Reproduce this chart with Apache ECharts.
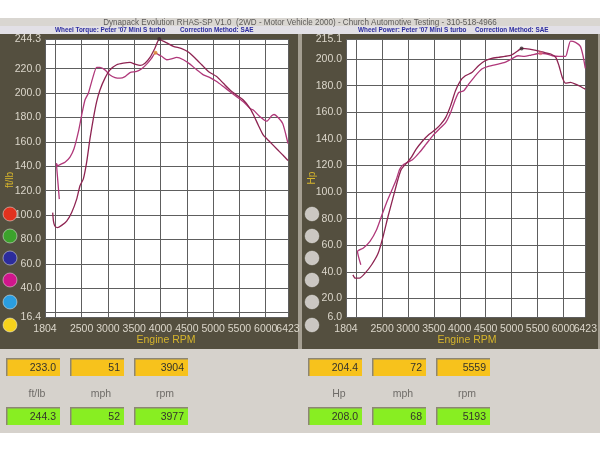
<!DOCTYPE html>
<html><head><meta charset="utf-8">
<script src="https://cdn.jsdelivr.net/npm/echarts@6/dist/echarts.min.js"></script>
<style>html,body{margin:0;padding:0;background:#fff}#c{width:600px;height:467px}</style>
</head><body><div id="c"></div>
<script>
// ---------- text ----------
const titleText = 'Dynapack Evolution RHAS-SP V1.0  (2WD - Motor Vehicle 2000) - Church Automotive Testing - 310-518-4966';
const torqueSubtitle = ["Wheel Torque: Peter '07 Mini S turbo", 'Correction Method: SAE'];
const powerSubtitle = ["Wheel Power: Peter '07 Mini S turbo", 'Correction Method: SAE'];
const xAxisTitle = 'Engine RPM';
const torqueUnit = 'ft/lb';
const powerUnit = 'Hp';

// ---------- axes ----------
const rpmMin = 1804, rpmMax = 6423, rpmStep = 500;
const rpmHiddenLabels = [2000];
const torqueMin = 16.4, torqueMax = 244.3, torqueStep = 20;
const torqueHiddenLabels = [20, 240];
const powerMin = 6.0, powerMax = 215.1, powerStep = 20;
const powerHiddenLabels = [];

// ---------- series [rpm, value] ----------
const torqueRun1 = [[2076,113],[2020,142.5],[2050,140.5],[2100,141.5],[2184,143.3],[2279,147.5],[2355,154.3],[2438,168.1],[2501,181.9],[2564,194.3],[2628,199.8],[2710,212.2],[2786,221.0],[2849,221.0],[2944,219.0],[3040,214.8],[3135,212.7],[3230,212.2],[3325,213.5],[3420,216.8],[3546,217.7],[3642,219.9],[3737,223.7],[3832,228.7],[3904,233.0],[3960,231.5],[4022,230.1],[4117,227.3],[4212,228.1],[4307,229.2],[4434,227.3],[4560,223.7],[4687,219.0],[4814,214.9],[4940,212.7],[5067,209.4],[5194,205.3],[5321,201.1],[5447,197.0],[5574,192.9],[5701,187.4],[5764,186.0],[5891,180.5],[6017,176.9],[6112,181.3],[6157,182.4],[6239,179.7],[6322,175.0],[6385,165.4],[6423,158.5]];
const torqueRun2 = [[1950,102],[1965,95],[1990,91],[2040,89.6],[2120,91.5],[2216,95],[2311,102],[2406,113],[2469,124],[2533,129.6],[2596,143.3],[2659,162.6],[2723,179.1],[2786,192.9],[2849,202.5],[2944,212.2],[3040,219.0],[3166,223.2],[3293,224.5],[3420,225.1],[3515,223.7],[3610,222.6],[3705,224.5],[3800,229.2],[3895,236.9],[3977,244.3],[4050,242.5],[4117,241.1],[4243,238.3],[4402,236.4],[4528,233.6],[4655,228.7],[4782,223.2],[4909,217.7],[5067,213.5],[5194,208.0],[5321,202.5],[5447,198.3],[5574,194.3],[5701,187.5],[5764,182.4],[5859,173.6],[5954,165.4],[6081,159.9],[6207,154.3],[6334,148.8],[6423,144.7]];
const powerRun1 = [[2090,45.3],[2026,55.3],[2140,57.9],[2267,62.9],[2394,71.7],[2489,81.8],[2584,91.8],[2680,100.6],[2775,109.4],[2838,117],[2914,120.8],[2978,122],[3092,124.5],[3219,129.6],[3346,135.8],[3473,142.1],[3600,147.2],[3727,152.2],[3822,159.7],[3917,169.8],[3980,174.8],[4076,176.1],[4171,181.1],[4298,187.4],[4425,192.5],[4551,194.5],[4742,196.2],[4869,197.5],[4996,200.0],[5123,202.5],[5249,202.0],[5376,203.0],[5559,204.4],[5661,204.0],[5788,202.5],[5915,202.0],[6042,202.0],[6087,207.5],[6138,213.5],[6233,212.6],[6328,209.6],[6379,202.5],[6423,193.0]];
const powerRun2 = [[1937,37.7],[1982,35.2],[2064,35.2],[2172,39.0],[2299,45.3],[2426,54.1],[2521,66.7],[2616,81.8],[2711,95.6],[2806,109.4],[2870,117.0],[2978,122.0],[3060,125.8],[3155,132.1],[3282,138.4],[3409,143.4],[3536,147.2],[3631,150.9],[3727,156.0],[3822,164.8],[3917,176.1],[4012,183.6],[4107,187.4],[4234,189.9],[4361,195.0],[4488,198.7],[4615,200.5],[4742,201.3],[4869,202.0],[4996,203.0],[5123,206.3],[5193,208.0],[5344,207.5],[5471,206.5],[5630,205.0],[5757,203.8],[5852,201.3],[5915,195.0],[5979,186.2],[6042,181.9],[6138,182.4],[6233,181.1],[6328,179.4],[6423,177.4]];

// ---------- readouts ----------
const torqueUnits = ['ft/lb', 'mph', 'rpm'];
const torqueYellow = ['233.0', '51', '3904'];
const torqueGreen = ['244.3', '52', '3977'];
const powerUnits = ['Hp', 'mph', 'rpm'];
const powerYellow = ['204.4', '72', '5559'];
const powerGreen = ['208.0', '68', '5193'];
const legendColors = ['#e2321e', '#3ca22c', '#2c2c9c', '#d0168c', '#2b9ee0', '#f6d21c'];

// ---------- styling / layout ----------
const panelColor = '#544f3f';
const labelColor = '#dcd7cb';
const nameColor = '#d6b52c';
const gridLineColor = '#5e5e5e';
const lineColor1 = '#b0387a';
const lineColor2 = '#8e2452';

function near(v, arr) { return arr.some(a => Math.abs(a - v) < 1e-6); }

// main rpm axis: all labels except the max one
function xAx(gi) {
  return {
    type: 'value', gridIndex: gi, min: rpmMin, max: rpmMax, splitNumber: 9,
    minInterval: rpmStep, maxInterval: rpmStep,
    axisLine: { show: false }, axisTick: { show: false },
    splitLine: { show: true, lineStyle: { color: gridLineColor, width: 1 } },
    axisLabel: { color: labelColor, fontSize: 10.5, margin: 7, fontFamily: 'Liberation Sans',
      showMinLabel: true, showMaxLabel: false,
      formatter: v => near(v, rpmHiddenLabels) ? '' : String(Math.round(v)) }
  };
}
// overlay rpm axis: only the max label
function xAxMax(gi) {
  return {
    type: 'value', gridIndex: gi, min: rpmMin, max: rpmMax, splitNumber: 9,
    minInterval: rpmStep, maxInterval: rpmStep, position: 'bottom',
    axisLine: { show: false }, axisTick: { show: false }, splitLine: { show: false },
    axisLabel: { color: labelColor, fontSize: 10.5, margin: 7, fontFamily: 'Liberation Sans',
      showMinLabel: false, showMaxLabel: true,
      formatter: v => near(v, [rpmMax]) ? String(rpmMax) : '' }
  };
}
function yAx(gi, mn, mx, step, hidden) {
  return {
    type: 'value', gridIndex: gi, min: mn, max: mx, splitNumber: 11,
    minInterval: step, maxInterval: step,
    axisLine: { show: false }, axisTick: { show: false },
    splitLine: { show: true, lineStyle: { color: gridLineColor, width: 1 } },
    axisLabel: { color: labelColor, fontSize: 10.5, margin: 4, fontFamily: 'Liberation Sans',
      showMinLabel: true, showMaxLabel: true,
      formatter: v => near(v, hidden) ? '' : v.toFixed(1) }
  };
}
function lineSeries(data, gi, color) {
  return { type: 'line', xAxisIndex: gi, yAxisIndex: gi, data: data, showSymbol: false,
    smooth: 0.2, lineStyle: { color: color, width: 1.3 }, itemStyle: { color: color },
    animation: false, z: 3 };
}
function markerSeries(readout, gi, color) {
  return { type: 'scatter', xAxisIndex: gi, yAxisIndex: gi,
    data: [[Number(readout[2]), Number(readout[0])]], symbolSize: 4,
    itemStyle: { color: color }, animation: false, z: 4 };
}

const g = [];
// backgrounds
g.push({ type: 'rect', z: -10, shape: { x: 0, y: 18, width: 600, height: 16 }, style: { fill: '#d9d6d1' } });
g.push({ type: 'rect', z: -10, shape: { x: 0, y: 26, width: 600, height: 8 }, style: { fill: '#e2e0e6' } });
g.push({ type: 'rect', z: -10, shape: { x: 0, y: 34, width: 600, height: 316 }, style: { fill: '#a59f92' } });
g.push({ type: 'rect', z: -9, shape: { x: 0, y: 34, width: 298, height: 315 }, style: { fill: panelColor } });
g.push({ type: 'rect', z: -9, shape: { x: 302, y: 34, width: 296, height: 315 }, style: { fill: panelColor } });
g.push({ type: 'rect', z: -10, shape: { x: 0, y: 349, width: 600, height: 84 }, style: { fill: '#d6d2cc' } });
// title
g.push({ type: 'text', z: 10, x: 300, y: 22, scaleX: 0.85,
  style: { text: titleText, fill: '#5c5a58', fontSize: 9.5, fontFamily: 'Liberation Sans', align: 'center', verticalAlign: 'middle' } });
[[torqueSubtitle, 55, 180], [powerSubtitle, 358, 475]].forEach(([s, x1, x2]) => {
  g.push({ type: 'text', z: 10, x: x1, y: 30, scaleX: 0.98, style: { text: s[0], fill: '#2c2ca0', fontSize: 6.5, fontWeight: 'bold', fontFamily: 'Liberation Sans', verticalAlign: 'middle' } });
  g.push({ type: 'text', z: 10, x: x2, y: 30, scaleX: 0.98, style: { text: s[1], fill: '#2c2ca0', fontSize: 6.5, fontWeight: 'bold', fontFamily: 'Liberation Sans', verticalAlign: 'middle' } });
});
// axis names
g.push({ type: 'text', z: 10, x: 10, y: 180, rotation: Math.PI / 2,
  style: { text: torqueUnit, fill: nameColor, fontSize: 10, fontFamily: 'Liberation Sans', align: 'center', verticalAlign: 'middle' } });
g.push({ type: 'text', z: 10, x: 312, y: 178, rotation: Math.PI / 2,
  style: { text: powerUnit, fill: nameColor, fontSize: 10, fontFamily: 'Liberation Sans', align: 'center', verticalAlign: 'middle' } });
[166, 467].forEach(x => g.push({ type: 'text', z: 10, x: x, y: 340,
  style: { text: xAxisTitle, fill: nameColor, fontSize: 10.5, fontFamily: 'Liberation Sans', align: 'center', verticalAlign: 'middle' } }));
// legend dots
const dotY = [214, 236, 258, 280, 302, 325];
dotY.forEach((y, i) => {
  g.push({ type: 'circle', z: 10, shape: { cx: 10, cy: y, r: 7 }, style: { fill: legendColors[i], stroke: 'rgba(255,255,255,0.45)', lineWidth: 1 } });
  g.push({ type: 'circle', z: 10, shape: { cx: 312, cy: y, r: 7 }, style: { fill: '#cbc7c2', stroke: 'rgba(255,255,255,0.3)', lineWidth: 1 } });
});
// readout boxes
function box(x, y, w, h, fill, txt) {
  g.push({ type: 'rect', z: 10, shape: { x: x, y: y, width: w, height: h }, style: { fill: '#8d8674' } });
  g.push({ type: 'rect', z: 11, shape: { x: x + 1.5, y: y + 1.5, width: w - 1.5, height: h - 1.5 }, style: { fill: fill } });
  g.push({ type: 'text', z: 12, x: x + w - 4, y: y + h / 2 + 1,
    style: { text: txt, fill: '#34332c', fontSize: 10.5, fontFamily: 'Liberation Sans', align: 'right', verticalAlign: 'middle' } });
}
const leftBoxX = [6, 70, 134], rightBoxX = [308, 372, 436];
[[leftBoxX, torqueYellow, torqueGreen, torqueUnits], [rightBoxX, powerYellow, powerGreen, powerUnits]].forEach(([xs, yl, gr, un]) => {
  xs.forEach((x, i) => {
    box(x, 358, 54, 18, '#f7c21c', yl[i]);
    box(x, 407, 54, 18, '#88ee22', gr[i]);
    g.push({ type: 'text', z: 12, x: x + 31, y: 394,
      style: { text: un[i], fill: '#6f6c68', fontSize: 10.5, fontFamily: 'Liberation Sans', align: 'center', verticalAlign: 'middle' } });
  });
});

const option = {
  animation: false,
  backgroundColor: '#ffffff',
  grid: [
    { left: 45, top: 39, width: 243, height: 278, show: true, backgroundColor: '#ffffff', borderWidth: 0 },
    { left: 346, top: 39, width: 242, height: 278, show: true, backgroundColor: '#ffffff', borderWidth: 0 }
  ],
  xAxis: [xAx(0), xAx(1), xAxMax(0), xAxMax(1)],
  yAxis: [yAx(0, torqueMin, torqueMax, torqueStep, torqueHiddenLabels), yAx(1, powerMin, powerMax, powerStep, powerHiddenLabels)],
  series: [
    lineSeries(torqueRun1, 0, lineColor1),
    lineSeries(torqueRun2, 0, lineColor2),
    lineSeries(powerRun1, 1, lineColor1),
    lineSeries(powerRun2, 1, lineColor2),
    markerSeries(torqueYellow, 0, '#e08a30'),
    markerSeries(torqueGreen, 0, '#3a2a30'),
    markerSeries(powerYellow, 1, '#e06a80'),
    markerSeries(powerGreen, 1, '#3a2a30')
  ],
  graphic: { elements: g }
};
const chart = echarts.init(document.getElementById('c'), null, { renderer: 'canvas' });
chart.setOption(option);
</script>
</body></html>
